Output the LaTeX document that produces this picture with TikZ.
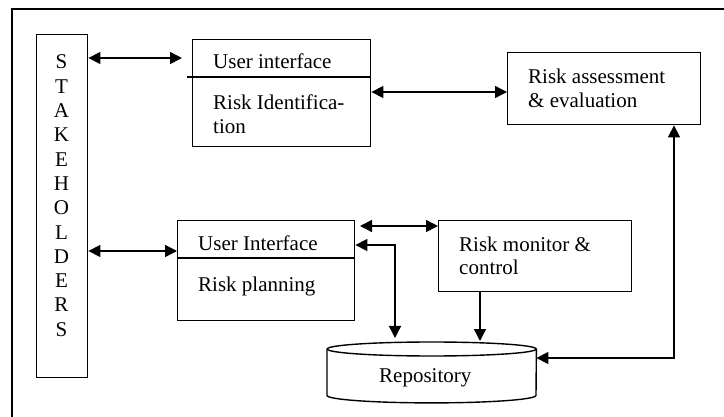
\documentclass[tikz,border=0pt]{standalone}
\usepackage{fontspec}
\setmainfont{Liberation Serif}
\usetikzlibrary{arrows.meta}
\tikzstyle{block} = [rectangle, draw, line width=1.4pt, inner sep=0pt, anchor=north west]
\tikzstyle{boxtext} = [anchor=base west, inner sep=0pt, align=left]
\tikzstyle{link} = [<->, line width=1.4pt]
\tikzstyle{rule} = [line width=1.4pt]

\begin{document}
\begin{tikzpicture}[x=1pt,y=-1pt,>={Triangle[length=12pt,width=12pt]},
                    font=\fontsize{21}{24}\selectfont]
  \useasboundingbox (0,0) rectangle (724,417);
  % frame, cut off at right and bottom
  \draw[rule] (12,417) -- (12,9) -- (724,9);

  \node[block, minimum width=51pt, minimum height=343pt]  (stake)   at (36,34) {};
  \foreach \ch [count=\i] in {S,T,A,K,E,H,O,L,D,E,R,S}
    \node[anchor=base, inner sep=0pt] (st\i) at (61.5,{69+24.3*(\i-1)}) {\ch};

  \node[block, minimum width=178pt, minimum height=107pt] (ident)   at (192,39) {};
  \node[block, minimum width=193pt, minimum height=72pt]  (assess)  at (507,52) {};
  \node[block, minimum width=177pt, minimum height=100pt] (plan)    at (177,220) {};
  \node[block, minimum width=193pt, minimum height=71pt]  (monitor) at (438,220) {};
  \node[minimum width=209pt, minimum height=61pt, inner sep=0pt, anchor=north west]
                                                          (repo)    at (327,342) {};

  % dividers of the two interface boxes
  \draw[rule] (187,77) -- (ident.east |- 0,77);
  \draw[rule] (plan.west |- 0,258) -- (plan.east |- 0,258);

  % repository drum
  \draw[rule] ([yshift=-7pt]repo.north) ellipse [x radius=104.5pt, y radius=7pt];
  \draw[rule] ([yshift=-7pt]repo.north west) -- ([yshift=8pt]repo.south west)
      arc[start angle=180, end angle=360, x radius=104.5pt, y radius=7.5pt]
      -- ([yshift=-7pt]repo.north east);

  % two-line texts sit on the baseline of their last line
  \node[boxtext] (identui) at (213,69)  {User interface};
  \node[boxtext] (identtx) at (213,134) {Risk Identifica-\\tion};
  \node[boxtext] (assesstx) at (528,108) {Risk assessment\\\& evaluation};
  \node[boxtext] (planui)  at (198,251) {User Interface};
  \node[boxtext] (plantx)  at (198,291) {Risk planning};
  \node[boxtext] (montx)   at (459,275) {Risk monitor \&\\control};
  \node[boxtext] (repotx)  at (379,382) {Repository};

  \coordinate (uitip) at (182,58);
  \coordinate (mntip) at (360,226);
  \coordinate (fork)  at (395,245);
  \coordinate (rise)  at (674,358);

  \draw[link] (stake.east |- uitip) -- (uitip);
  \draw[link] (ident.east |- 0,92) -- (assess.west |- 0,92);
  \draw[link] (stake.east |- 0,251) -- (plan.west |- 0,251);
  \draw[link] (mntip) -- (monitor.west |- mntip);
  \draw[link] (plan.east |- fork) -- (fork) -- (395,338);
  \draw[link,->] (monitor.south -| 480,0) -- (480,341);
  \draw[link] (repo.east |- rise) -- (rise) -- (rise |- assess.south);
\end{tikzpicture}
\end{document}
